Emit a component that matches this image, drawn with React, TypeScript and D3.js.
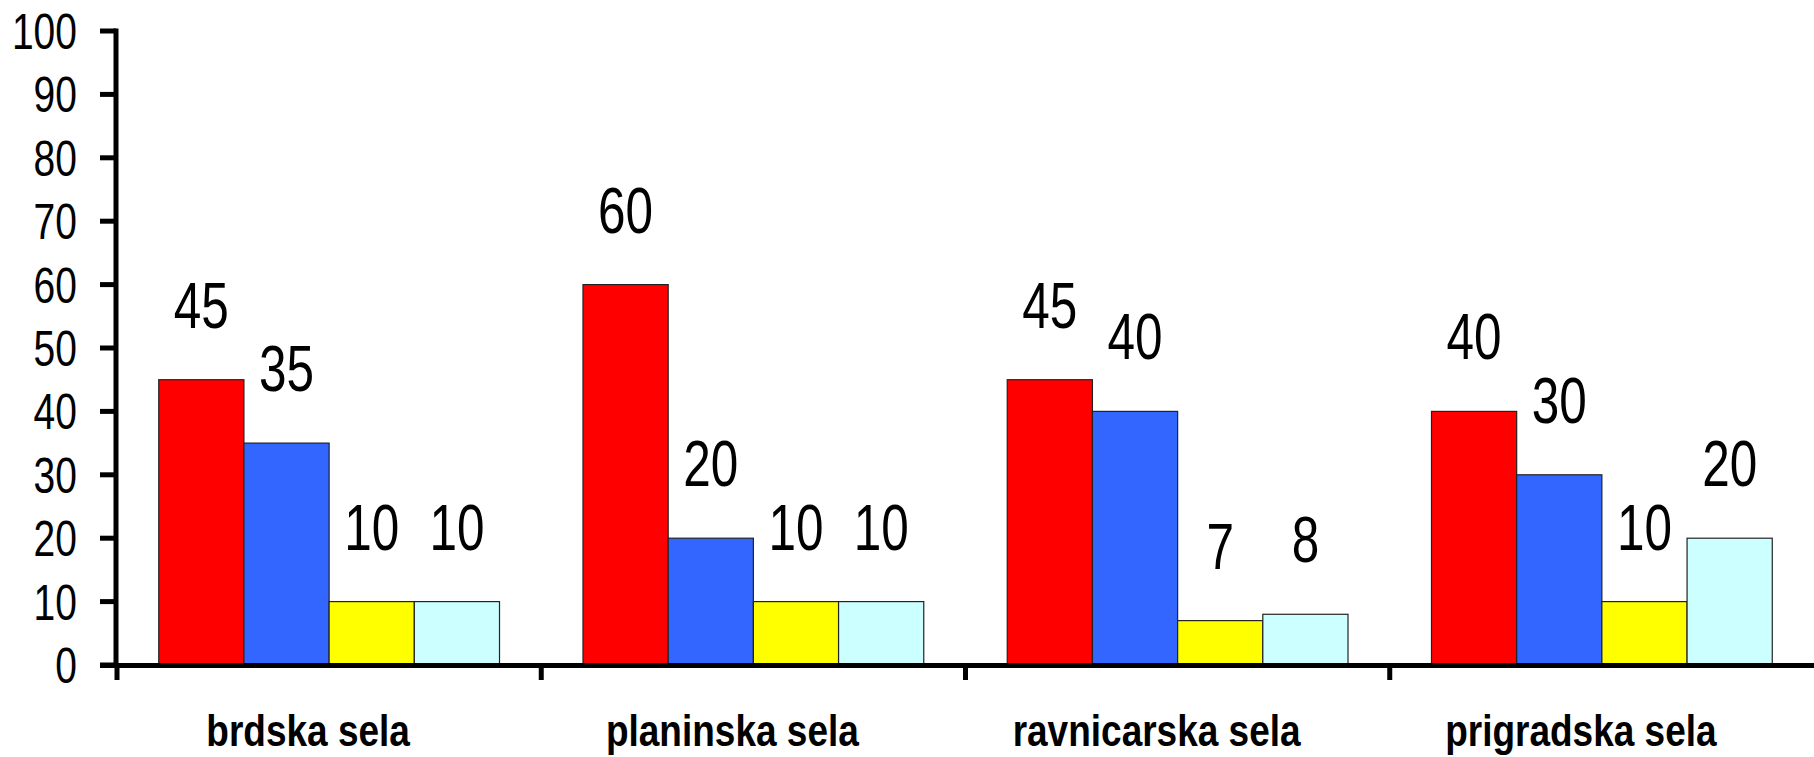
import React, { useEffect } from "react";
import * as d3 from "d3";

const categories = ["brdska sela", "planinska sela", "ravnicarska sela", "prigradska sela"];
const seriesNames = ["s1", "s2", "s3", "s4"];
const seriesColors = ["#FF0000", "#3366FF", "#FFFF00", "#CCFFFF"];
const values: number[][] = [
  [45, 35, 10, 10],
  [60, 20, 10, 10],
  [45, 40, 7, 8],
  [40, 30, 10, 20],
];
const yTicks = [0, 10, 20, 30, 40, 50, 60, 70, 80, 90, 100];

const W = 1814;
const H = 757;
const FONT = "'Liberation Sans', Arial, Helvetica, sans-serif";

export default function App() {
  useEffect(() => {
    document.body.style.margin = "0";
  }, []);

  const x0 = d3.scaleBand<string>().domain(categories).range([117, 1814]).padding(0);
  const x1 = d3
    .scaleBand<string>()
    .domain(seriesNames)
    .range([0, x0.bandwidth()])
    .paddingInner(0)
    .paddingOuter(0.49);
  const y = d3.scaleLinear().domain([0, 100]).range([665, 31]);

  const catTicks = categories.map((c) => x0(c) as number);

  return (
    <svg width={W} height={H} style={{ display: "block", background: "#fff" }}>
      {/* bars */}
      {categories.map((c, ci) => (
        <g key={c} transform={`translate(${x0(c)},0)`}>
          {values[ci].map((v, si) => (
            <rect
              key={si}
              x={x1(seriesNames[si])}
              y={y(v)}
              width={x1.bandwidth()}
              height={y(0) - y(v)}
              fill={seriesColors[si]}
              stroke="#222"
              strokeWidth={1.2}
            />
          ))}
          {values[ci].map((v, si) => (
            <text
              key={"l" + si}
              transform={`translate(${(x1(seriesNames[si]) as number) + x1.bandwidth() / 2},${y(v) - 52}) scale(1,1.3)`}
              textAnchor="middle"
              fontFamily={FONT}
              fontSize={49.5}
              fill="#000"
            >
              {v}
            </text>
          ))}
        </g>
      ))}

      {/* y axis */}
      <line x1={116} x2={116} y1={y(100) - 2.5} y2={y(0) + 2.5} stroke="#000" strokeWidth={5} />
      {yTicks.map((t) => (
        <g key={t}>
          <line x1={100} x2={116} y1={y(t)} y2={y(t)} stroke="#000" strokeWidth={5} />
          <text
            transform={`translate(77,${y(t) + 18}) scale(1,1.3)`}
            textAnchor="end"
            fontFamily={FONT}
            fontSize={39}
            fill="#000"
          >
            {t}
          </text>
        </g>
      ))}

      {/* x axis */}
      <line x1={100} x2={W} y1={665.5} y2={665.5} stroke="#000" strokeWidth={5} />
      {catTicks.map((t, i) => (
        <line key={i} x1={t} x2={t} y1={665} y2={680} stroke="#000" strokeWidth={5} />
      ))}
      {categories.map((c) => (
        <text
          key={c}
          transform={`translate(${(x0(c) as number) + x0.bandwidth() / 2 - 21},745.5) scale(1,1.2)`}
          textAnchor="middle"
          fontFamily={FONT}
          fontWeight="bold"
          fontSize={37}
          fill="#000"
        >
          {c}
        </text>
      ))}
    </svg>
  );
}
